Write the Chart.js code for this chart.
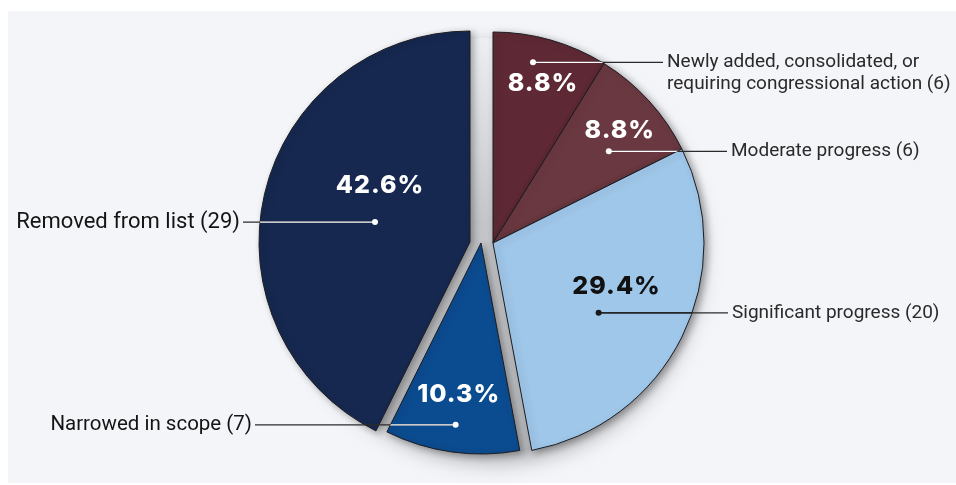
<!DOCTYPE html>
<html>
<head>
<meta charset="utf-8">
<script src="https://cdn.jsdelivr.net/npm/chart.js@4.4.1/dist/chart.umd.min.js"></script>
<style>
  html, body { margin: 0; padding: 0; background: #ffffff; }
  #wrap { width: 956px; height: 485px; }
</style>
</head>
<body>
<div id="wrap"><canvas id="pie" width="956" height="485"></canvas></div>
<script>
(function () {
    'use strict';

    // Status of the listed items, clockwise from 12 o'clock.
    var categories = [
        'Newly added, consolidated, or requiring congressional action',
        'Moderate progress',
        'Significant progress',
        'Narrowed in scope',
        'Removed from list'
    ];
    var counts = [6, 6, 20, 7, 29];
    var sliceColors = ['#5e2934', '#6a3840', '#9fc7e9', '#0b4b8f', '#16284f'];
    var pctColors   = ['#ffffff', '#ffffff', '#111111', '#ffffff', '#ffffff'];

    // Label text, line-broken for the callouts.
    var labelLines = [
        ['Newly added, consolidated, or', 'requiring congressional action (6)'],
        ['Moderate progress (6)'],
        ['Significant progress (20)'],
        ['Narrowed in scope (7)'],
        ['Removed from list (29)']
    ];
    var labelSize = [19, 19, 19, 20.5, 22];

    // Exploded layout: the right-hand group moves together, the two blues drift left.
    var SHIFT_X = [11, 11, 11, -1, -12];
    var SHIFT_Y = [0, 0, 0, 0, -1];

    // Callout anchors (fraction of radius, angle tweak in degrees from slice middle).
    var DOT_R     = [0.877, 0.70, 0.60, 0.87, 0.46];
    var DOT_TWEAK = [-3.4, 4, 7, 0, -1.4];
    // Percent text offset from the dot.
    var PCT_DX = [10, 11, 18, 3, 5];
    var PCT_DY = [21, -21, -26, -30, -37];
    // Where the leader line ends and which side the text sits on.
    var LINE_END = [663, 727, 728, 255, 243];
    var SIDE     = ['right', 'right', 'right', 'left', 'left'];
    var LINE_IN  = ['#ffffff', '#ffffff', '#1a1a1a', '#ffffff', '#ffffff'];

    var RADIUS = 211;
    var total = counts.reduce(function (a, b) { return a + b; }, 0);

    var panelPlugin = {
        id: 'panel',
        beforeDraw: function (chart) {
            var ctx = chart.ctx;
            ctx.save();
            ctx.fillStyle = '#ffffff';
            ctx.fillRect(0, 0, chart.width, chart.height);
            ctx.fillStyle = '#f4f5f9';
            ctx.fillRect(8, 11, chart.width - 8, 472);
            ctx.restore();
        }
    };

    var explodePlugin = {
        id: 'explode',
        afterDatasetsUpdate: function (chart) {
            var meta = chart.getDatasetMeta(0);
            meta.data.forEach(function (arc, i) {
                arc.x += SHIFT_X[i];
                arc.y += SHIFT_Y[i];
            });
        },
        beforeDatasetsDraw: function (chart) {
            // Grey base showing through the gaps, with the drop shadow.
            var ctx = chart.ctx;
            var a = chart.chartArea;
            var cx = (a.left + a.right) / 2;
            var cy = (a.top + a.bottom) / 2;
            var g = ctx.createLinearGradient(0, cy - RADIUS, 0, cy + RADIUS);
            g.addColorStop(0, '#eef0f3');
            g.addColorStop(0.45, '#c4c5c8');
            g.addColorStop(1, '#b7b8bb');
            ctx.save();
            ctx.shadowColor = 'rgba(0,0,0,0.33)';
            ctx.shadowBlur = 22;
            ctx.shadowOffsetX = 8;
            ctx.shadowOffsetY = 9;
            ctx.beginPath();
            ctx.arc(cx + 3, cy + 2, RADIUS - 4, 0, Math.PI * 2);
            ctx.fillStyle = g;
            ctx.fill();
            ctx.restore();
        },
        beforeDatasetDraw: function (chart) {
            var ctx = chart.ctx;
            ctx.save();
            ctx.shadowColor = 'rgba(0,0,0,0.30)';
            ctx.shadowBlur = 7;
            ctx.shadowOffsetX = 3;
            ctx.shadowOffsetY = 2;
        },
        afterDatasetDraw: function (chart) {
            chart.ctx.restore();
        }
    };

    function arcPath(ctx, arc) {
        ctx.beginPath();
        ctx.moveTo(arc.x, arc.y);
        ctx.arc(arc.x, arc.y, arc.outerRadius, arc.startAngle, arc.endAngle);
        ctx.closePath();
    }

    var calloutPlugin = {
        id: 'callouts',
        afterDatasetsDraw: function (chart) {
            var ctx = chart.ctx;
            var meta = chart.getDatasetMeta(0);
            meta.data.forEach(function (arc, i) {
                var mid = (arc.startAngle + arc.endAngle) / 2 + DOT_TWEAK[i] * Math.PI / 180;
                var r = arc.outerRadius * DOT_R[i];
                var dx = arc.x + Math.cos(mid) * r;
                var dy = arc.y + Math.sin(mid) * r;

                // Leader line: dark outside the slice, slice-contrast colour inside.
                ctx.save();
                ctx.lineWidth = 1.3;
                ctx.strokeStyle = '#2b2b2b';
                ctx.beginPath();
                ctx.moveTo(dx, dy);
                ctx.lineTo(LINE_END[i], dy);
                ctx.stroke();
                arcPath(ctx, arc);
                ctx.clip();
                ctx.strokeStyle = LINE_IN[i];
                ctx.beginPath();
                ctx.moveTo(dx, dy);
                ctx.lineTo(LINE_END[i], dy);
                ctx.stroke();
                ctx.restore();

                ctx.save();
                ctx.fillStyle = LINE_IN[i];
                ctx.beginPath();
                ctx.arc(dx, dy, 3, 0, Math.PI * 2);
                ctx.fill();

                // Percent share.
                ctx.fillStyle = pctColors[i];
                ctx.font = '800 25px Inter, "DejaVu Sans", sans-serif';
                ctx.letterSpacing = '1px';
                ctx.textAlign = 'center';
                ctx.textBaseline = 'middle';
                var pct = (counts[i] / total * 100).toFixed(1) + '%';
                ctx.fillText(pct, dx + PCT_DX[i], dy + PCT_DY[i]);

                // Category label.
                ctx.letterSpacing = '0px';
                ctx.font = labelSize[i] + 'px Roboto, "Liberation Sans", sans-serif';
                ctx.fillStyle = SIDE[i] === 'left' ? '#141414' : '#2a2a2a';
                var lines = labelLines[i];
                if (SIDE[i] === 'left') {
                    ctx.textAlign = 'right';
                    ctx.fillText(lines[0], LINE_END[i] - 3, dy);
                } else {
                    ctx.textAlign = 'left';
                    lines.forEach(function (t, k) {
                        ctx.fillText(t, LINE_END[i] + 4, dy + k * 22);
                    });
                }
                ctx.restore();
            });
        }
    };

    new Chart(document.getElementById('pie').getContext('2d'), {
        type: 'pie',
        data: {
            labels: categories,
            datasets: [{
                data: counts,
                backgroundColor: sliceColors,
                borderColor: '#1c1c22',
                borderWidth: 1,
                radius: RADIUS
            }]
        },
        options: {
            responsive: false,
            animation: false,
            layout: { padding: { left: 8, right: 0, top: 1, bottom: 0 } },
            plugins: {
                legend: { display: false },
                tooltip: { enabled: false }
            }
        },
        plugins: [panelPlugin, explodePlugin, calloutPlugin]
    });
}());
</script>
</body>
</html>
